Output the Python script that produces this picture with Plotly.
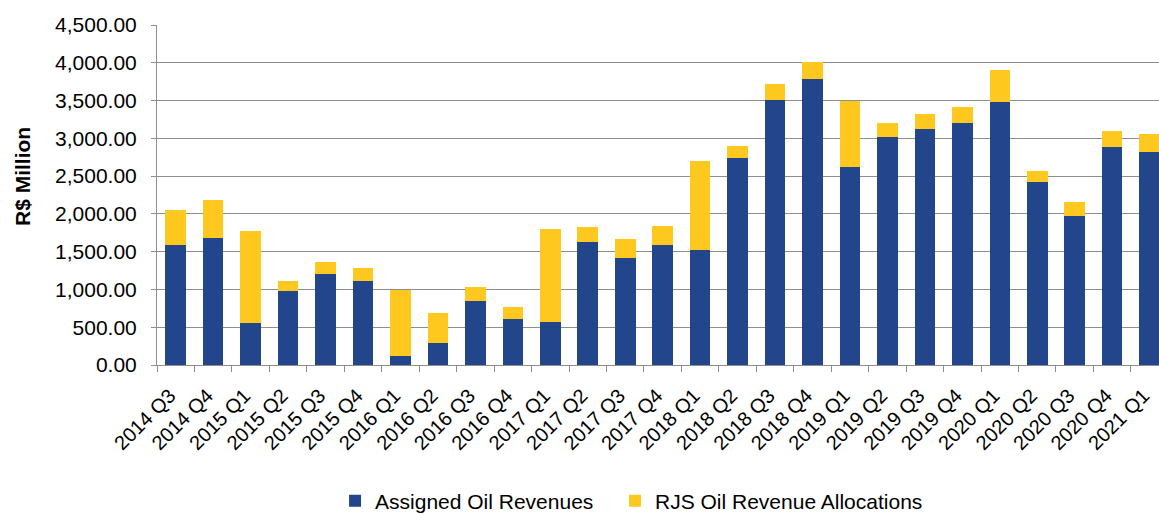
import plotly.graph_objects as go

quarters = ["2014 Q3", "2014 Q4", "2015 Q1", "2015 Q2", "2015 Q3", "2015 Q4",
            "2016 Q1", "2016 Q2", "2016 Q3", "2016 Q4", "2017 Q1", "2017 Q2",
            "2017 Q3", "2017 Q4", "2018 Q1", "2018 Q2", "2018 Q3", "2018 Q4",
            "2019 Q1", "2019 Q2", "2019 Q3", "2019 Q4", "2020 Q1", "2020 Q2",
            "2020 Q3", "2020 Q4", "2021 Q1"]

assigned = [1584, 1685, 551, 975, 1204, 1107,
            124, 287, 851, 609, 569, 1623,
            1416, 1588, 1522, 2744, 3512, 3790,
            2625, 3018, 3123, 3207, 3485, 2426,
            1976, 2881, 2824]

rjs = [471, 499, 1222, 141, 164, 177,
       873, 406, 181, 159, 1227, 199,
       256, 252, 1178, 154, 203, 220,
       869, 185, 203, 203, 424, 142,
       181, 216, 238]

y_ticks = [0, 500, 1000, 1500, 2000, 2500, 3000, 3500, 4000, 4500]

BLUE = "#23458b"
YELLOW = "#fec81e"
GRID = "#8e8e8e"
FONT = "Liberation Sans, Arial, sans-serif"

fig = go.Figure()
fig.add_trace(go.Bar(x=quarters, y=assigned, name="Assigned Oil Revenues",
                     marker=dict(color=BLUE, line=dict(width=0)),
                     legend="legend", showlegend=True))
fig.add_trace(go.Bar(x=quarters, y=rjs, name="RJS Oil Revenue Allocations",
                     marker=dict(color=YELLOW, line=dict(width=0)),
                     legend="legend2", showlegend=True))

legend_common = dict(orientation="h", xanchor="left", y=-0.40, yanchor="middle",
                     font=dict(size=21, family=FONT), itemwidth=30,
                     bgcolor="rgba(0,0,0,0)")

fig.update_layout(
    showlegend=True,
    barmode="stack",
    bargap=0.45,
    width=1159, height=513,
    margin=dict(l=157, r=0, t=25, b=148, pad=0, autoexpand=False),
    plot_bgcolor="white", paper_bgcolor="white",
    font=dict(family=FONT, color="#000000"),
    legend=dict(x=0.1777, **legend_common),
    legend2=dict(x=0.4571, **legend_common),
    xaxis=dict(
        type="category",
        range=[-0.5, 26.25],
        automargin=False,
        tickangle=-45,
        tickfont=dict(size=20, family=FONT),
        ticks="outside", ticklen=6, tickcolor=GRID, tickwidth=1,
        tickson="boundaries",
        ticklabelstandoff=10,
        ticklabelshift=-6,
        showline=True, linecolor=GRID, linewidth=1,
        showgrid=False,
    ),
    yaxis=dict(
        range=[0, 4500],
        automargin=False,
        tickvals=y_ticks,
        tickformat=",.2f",
        tickfont=dict(size=21, family=FONT),
        ticks="outside", ticklen=5, tickcolor=GRID,
        ticklabelstandoff=10,
        showline=True, linecolor=GRID, linewidth=1,
        showgrid=True, gridcolor=GRID, gridwidth=1,
        zeroline=False,
    ),
    annotations=[dict(text="<b>R$ Million</b>", textangle=-90, showarrow=False,
                      xref="paper", yref="paper", x=-0.1337, y=0.553,
                      xanchor="center", yanchor="middle",
                      font=dict(size=21, family=FONT, color="#000000"))],
)

fig.write_html("out.html", config={"displayModeBar": False},
               post_script="document.body.style.margin='0';document.body.style.overflow='hidden';")
